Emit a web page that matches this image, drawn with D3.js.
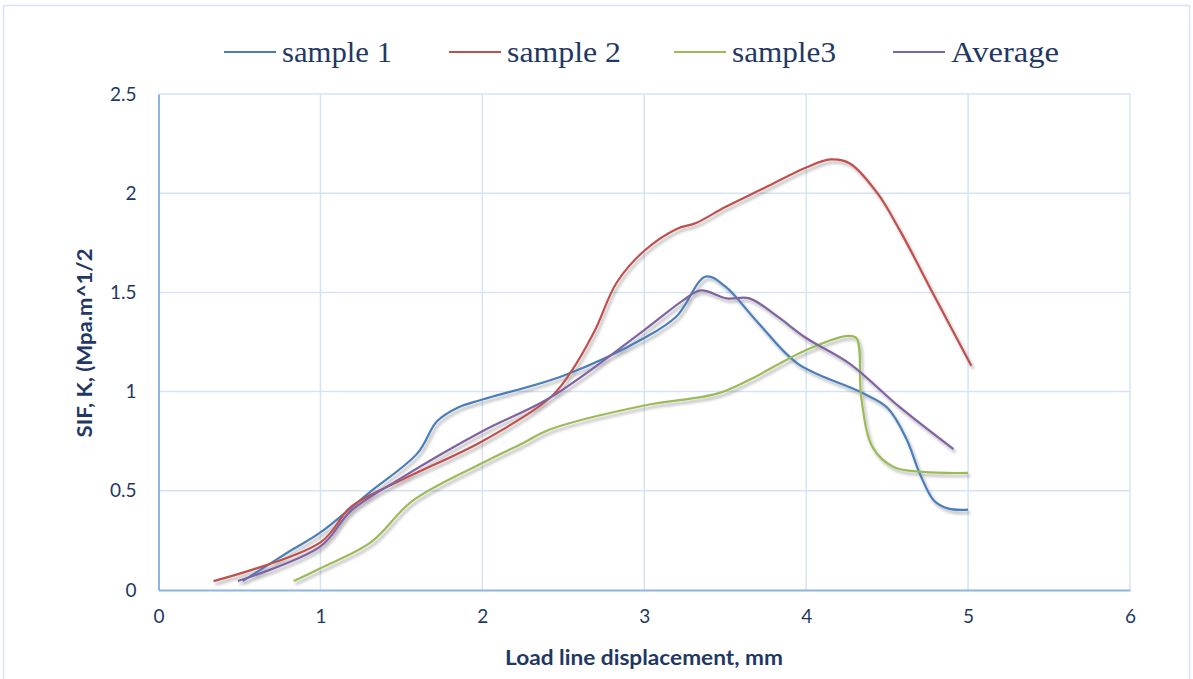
<!DOCTYPE html>
<meta charset="utf-8">
<style>
  body { margin: 0; background: #fff; }
  .grid line { stroke: #d6e3f4; stroke-width: 1.5; }
  .tick text { fill: #1f3864; font-family: Lato, "Open Sans", sans-serif; font-size: 19px; }
  .title { fill: #1f3864; font-family: Lato, "Open Sans", sans-serif; font-weight: bold; font-size: 21px; }
  .legend text { fill: #1f3864; font-family: "Liberation Serif", "DejaVu Serif", serif; font-size: 30px; }
  .series { fill: none; stroke-width: 2.2; }
</style>
<body>
<script src="https://d3js.org/d3.v7.min.js"></script>
<script>
// values
var names = ["sample 1", "sample 2", "sample3", "Average"];
var colors = ["#4a7ebb", "#c0504d", "#9bbb59", "#8064a2"];

var sample1 = [[0.52,0.045],[0.8,0.19],[1.0,0.29],[1.3,0.49],[1.6,0.69],[1.72,0.85],[1.85,0.92],[2.0,0.96],
  [2.5,1.08],[3.0,1.27],[3.2,1.38],[3.38,1.58],[3.5,1.53],[3.7,1.35],[3.95,1.14],[4.33,1.0],[4.5,0.92],
  [4.62,0.76],[4.7,0.59],[4.79,0.45],[4.88,0.41],[5.0,0.405]];
var sample2 = [[0.34,0.045],[1.0,0.24],[1.19,0.42],[1.49,0.55],[2.0,0.75],[2.42,0.97],[2.54,1.09],[2.69,1.30],
  [2.83,1.55],[3.0,1.71],[3.2,1.82],[3.32,1.85],[3.5,1.93],[3.75,2.03],[4.0,2.13],[4.15,2.17],[4.27,2.15],
  [4.44,2.0],[4.58,1.81],[4.78,1.50],[5.02,1.13]];
var sample3 = [[0.835,0.045],[1.0,0.11],[1.31,0.24],[1.57,0.45],[2.0,0.64],[2.25,0.74],[2.42,0.81],[3.0,0.93],
  [3.45,0.99],[3.65,1.06],[4.0,1.21],[4.25,1.28],[4.31,1.27],[4.34,0.97],[4.41,0.72],[4.54,0.62],[4.72,0.595],[5.0,0.59]];
var average = [[0.49,0.045],[1.0,0.22],[1.19,0.40],[1.49,0.56],[2.0,0.80],[2.42,0.97],[3.0,1.31],[3.24,1.46],
  [3.35,1.51],[3.51,1.47],[3.65,1.47],[3.82,1.38],[4.0,1.27],[4.27,1.14],[4.58,0.92],[4.91,0.71]];
var xTicks = [0, 1, 2, 3, 4, 5, 6];
var yTicks = [0, 0.5, 1, 1.5, 2, 2.5];
var yTickLabels = ["0", "0.5", "1", "1.5", "2", "2.5"];

var W = 1193, H = 679;
var svg = d3.select("body").append("svg").attr("width", W).attr("height", H);

var defs = svg.append("defs");
defs.append("filter").attr("id", "shadow").attr("x", "-5%").attr("y", "-5%").attr("width", "110%").attr("height", "120%")
  .append("feDropShadow").attr("dx", 2).attr("dy", 3).attr("stdDeviation", 1.8)
  .attr("flood-color", "#000").attr("flood-opacity", 0.3);

// outer frame
svg.append("rect").attr("x", 3.5).attr("y", 5.5).attr("width", 1186).attr("height", 680)
  .attr("fill", "none").attr("stroke", "#d6e3f4").attr("stroke-width", 1.5);

var x = d3.scaleLinear().domain([0, 6]).range([158.5, 1130]);
var y = d3.scaleLinear().domain([0, 2.5]).range([590, 94]);

// grid
var grid = svg.append("g").attr("class", "grid");
grid.selectAll(".v").data(xTicks.slice(1)).enter().append("line")
  .attr("x1", d => x(d)).attr("x2", d => x(d)).attr("y1", y(0)).attr("y2", y(2.5));
grid.selectAll(".h").data(yTicks.slice(1)).enter().append("line")
  .attr("x1", x(0)).attr("x2", x(6)).attr("y1", d => y(d)).attr("y2", d => y(d));

// axes
var xAxis = svg.append("g").attr("transform", "translate(0," + y(0) + ")")
  .call(d3.axisBottom(x).tickValues(xTicks).tickSize(0).tickPadding(20).tickFormat(d3.format("d")));
var yAxis = svg.append("g").attr("transform", "translate(" + x(0) + ",0)")
  .call(d3.axisLeft(y).tickValues(yTicks).tickSize(0).tickPadding(22).tickFormat((d, i) => yTickLabels[i]));
[xAxis, yAxis].forEach(function (a) {
  a.select(".domain").attr("stroke", "#8eb4e3").attr("stroke-width", 2);
});

// lines
var line = d3.line().x(d => x(d[0])).y(d => y(d[1])).curve(d3.curveCatmullRom.alpha(0.5));
svg.append("g").attr("filter", "url(#shadow)")
  .selectAll("path").data([sample1, sample2, sample3, average]).enter().append("path")
  .attr("class", "series")
  .attr("stroke", (d, i) => colors[i])
  .attr("d", line);

// axis titles
svg.append("text").attr("class", "title").attr("text-anchor", "middle")
  .attr("x", 644).attr("y", 665).attr("textLength", 278).attr("lengthAdjust", "spacingAndGlyphs")
  .text("Load line displacement, mm");
svg.append("text").attr("class", "title").attr("text-anchor", "middle")
  .attr("transform", "translate(92,343) rotate(-90)").attr("textLength", 189).attr("lengthAdjust", "spacingAndGlyphs")
  .text("SIF, K, (Mpa.m^1/2");

// legend
var legX = [224, 449, 674, 893];
var legW = [110, 114, 104, 108];
var leg = svg.append("g").attr("class", "legend").selectAll("g").data(names).enter().append("g")
  .attr("transform", (d, i) => "translate(" + legX[i] + ",52)");
leg.append("line").attr("x1", 0).attr("x2", 52).attr("stroke", (d, i) => colors[i]).attr("stroke-width", 2.2);
leg.append("text").attr("x", 58).attr("y", 10).text(d => d)
  .attr("textLength", (d, i) => legW[i]).attr("lengthAdjust", "spacingAndGlyphs");
</script>
